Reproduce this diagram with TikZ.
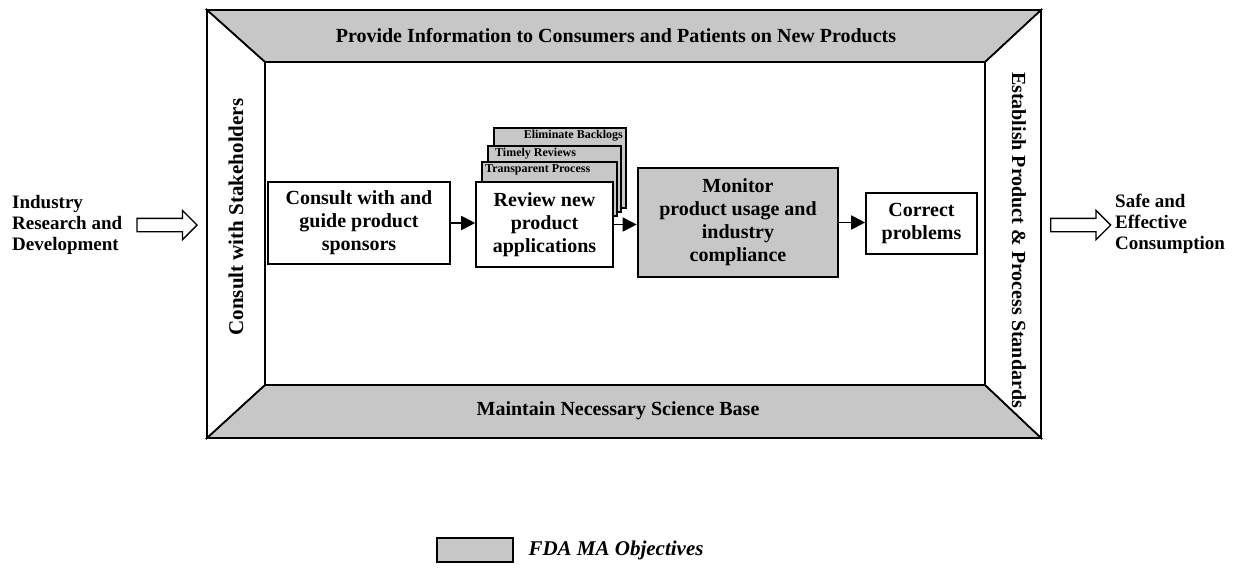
\documentclass[tikz,border=0pt]{standalone}
\usepackage{fontspec}
\setmainfont{Liberation Serif}
\usetikzlibrary{arrows.meta,shapes.arrows}

\begin{document}
\begin{tikzpicture}[x=1pt,y=-1pt,
	objective/.style={fill=black!22},
	frameline/.style={line width=1.6pt, line join=miter},
	procbox/.style={draw, line width=1.6pt, align=center, inner sep=0pt,
		font=\fontsize{20}{23}\selectfont\bfseries},
	pagebox/.style={draw, objective, line width=1.4pt},
	pagetext/.style={inner sep=1pt, font=\fontsize{12}{13}\selectfont\bfseries},
	sidetext/.style={font=\fontsize{20}{23}\selectfont\bfseries},
	flowtext/.style={align=left, inner sep=0pt, font=\fontsize{19}{21}\selectfont\bfseries},
	hollow/.style={single arrow, draw, line width=1.3pt, fill=white, inner xsep=0pt,
		inner ysep=6pt, text height=0pt, text depth=0pt, minimum height=60pt,
		single arrow head extend=8pt, single arrow head indent=0pt},
	flow/.style={-{Triangle[length=14pt,width=14pt]}, line width=1.8pt}]

\useasboundingbox (0,0) rectangle (1247,578);

% frame: top and bottom trapezoids are objectives, sides stay white
\draw[frameline, objective] (207,10) -- (1041,10) -- (985,62) -- (265,62) -- cycle;
\draw[frameline, objective] (265,385) -- (985,385) -- (1041,438) -- (207,438) -- cycle;
\draw[frameline] (207,10) -- (265,62) -- (265,385) -- (207,438) -- cycle;
\draw[frameline] (1041,10) -- (985,62) -- (985,385) -- (1041,438) -- cycle;

\node[sidetext] (topside) at (616,36) {Provide Information to Consumers and Patients on New Products};
\node[sidetext] (bottomside) at (618,411) {Maintain Necessary Science Base};
\node[sidetext, rotate=90, font=\fontsize{21}{23}\selectfont\bfseries] (leftside) at (236,217) {Consult with Stakeholders};
\node[sidetext, rotate=-90] (rightside) at (1019,240) {Establish Product \& Process Standards};

% input and output
\node[flowtext, anchor=west] (industry) at (12,225) {Industry\\Research and\\Development};
\node[hollow, anchor=east] (inarrow) at (198,225) {};
\node[flowtext, anchor=west] (safe) at (1115,224) {Safe and\\Effective\\Consumption};
\node[hollow, anchor=west] (outarrow) at (1050,225) {};

% stacked pages behind the review box
\draw[pagebox] (494,128) rectangle (626,208);
\node[pagetext, anchor=north east] (backlogs) at (624,129) {Eliminate Backlogs};
\draw[pagebox] (488,146) rectangle (621,212);
\node[pagetext, anchor=north west] (timely) at (494,147) {Timely Reviews};
\draw[pagebox] (482,162) rectangle (617,216);
\node[pagetext, anchor=north west] (transparent) at (484,163) {Transparent Process};

% process boxes
\node[procbox, fill=white, minimum width=182pt, minimum height=82pt] (consult) at (359,223) {Consult with and\\guide product\\sponsors};
\node[procbox, fill=white, minimum width=137pt, minimum height=85pt] (review) at (544.5,224.5) {Review new\\product\\applications};
\node[procbox, objective, line width=2.6pt, minimum width=200pt, minimum height=109pt] (monitor) at (738,222.5) {Monitor\\product usage and\\industry\\compliance};
\node[procbox, fill=white, minimum width=111pt, minimum height=61pt] (correct) at (921.5,223.5) {Correct\\problems};

\draw[flow] (consult.east) -- (review.west |- consult.east);
\draw[flow] (review.east) -- (monitor.west |- review.east);
\draw[flow] (monitor.east) -- (correct.west |- monitor.east);

% legend
\node[draw, objective, line width=2pt, minimum width=76pt, minimum height=24pt] (key) at (475,550) {};
\node[anchor=west, font=\fontsize{21}{24}\selectfont\bfseries\itshape] (keytext) at (525,550) {FDA MA Objectives};
\end{tikzpicture}
\end{document}
